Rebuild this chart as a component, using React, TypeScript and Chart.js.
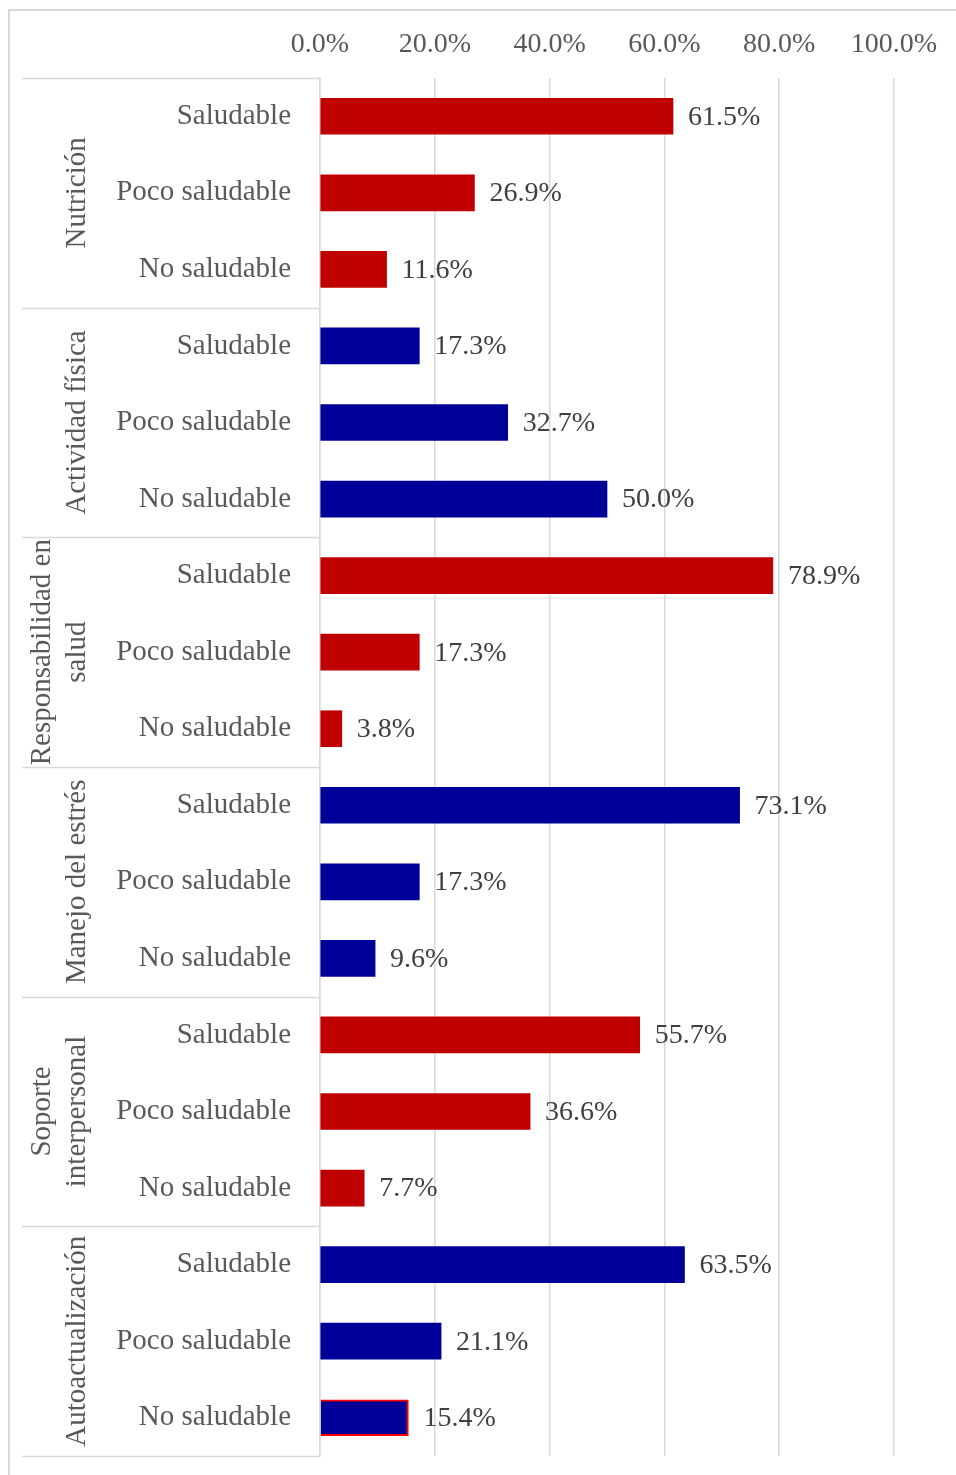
import React, { useEffect, useRef } from "react";
import { Chart, registerables } from "chart.js";

Chart.register(...registerables);

const groups: string[][] = [
  ["Nutrición"],
  ["Actividad física"],
  ["Responsabilidad en", "salud"],
  ["Manejo del estrés"],
  ["Soporte", "interpersonal"],
  ["Autoactualización"],
];
const levels = ["Saludable", "Poco saludable", "No saludable"];
const categories: string[] = groups.flatMap(() => levels);
const values = [
  61.5, 26.9, 11.6,
  17.3, 32.7, 50.0,
  78.9, 17.3, 3.8,
  73.1, 17.3, 9.6,
  55.7, 36.6, 7.7,
  63.5, 21.1, 15.4,
];
const groupColors = ["#C00000", "#000099", "#C00000", "#000099", "#C00000", "#000099"];
const xTicks = [0, 20, 40, 60, 80, 100];

const FONT = "'Liberation Serif', 'Times New Roman', serif";
const GRID = "#d9d9d9";

const overlay = {
  id: "overlay",
  afterDatasetsDraw(chart: any) {
    const ctx = chart.ctx;
    const meta = chart.getDatasetMeta(0);
    ctx.save();
    ctx.font = `28px ${FONT}`;
    ctx.fillStyle = "#404040";
    ctx.textAlign = "left";
    ctx.textBaseline = "middle";
    meta.data.forEach((bar: any, i: number) => {
      ctx.fillText(values[i].toFixed(1) + "%", bar.x + 15, bar.y + 1);
    });
    ctx.restore();
  },
  afterDraw(chart: any) {
    const ctx = chart.ctx;
    const ca = chart.chartArea;
    const ys = chart.scales.y;
    ctx.save();
    // outer frame
    ctx.strokeStyle = GRID;
    ctx.lineWidth = 2;
    ctx.beginPath();
    ctx.moveTo(9, chart.height + 5);
    ctx.lineTo(9, 10);
    ctx.lineTo(chart.width + 5, 10);
    ctx.stroke();
    // group separators
    ctx.lineWidth = 1.5;
    const bounds: number[] = [ca.top];
    for (let g = 1; g < groups.length; g++) {
      bounds.push((ys.getPixelForValue(g * 3 - 1) + ys.getPixelForValue(g * 3)) / 2);
    }
    bounds.push(ca.bottom);
    ctx.beginPath();
    bounds.forEach((b) => {
      ctx.moveTo(22, Math.round(b) + 0.5);
      ctx.lineTo(ca.left, Math.round(b) + 0.5);
    });
    ctx.stroke();
    // group labels
    ctx.font = `29px ${FONT}`;
    ctx.fillStyle = "#595959";
    ctx.textAlign = "center";
    ctx.textBaseline = "middle";
    groups.forEach((lines, g) => {
      const cy = (ys.getPixelForValue(g * 3) + ys.getPixelForValue(g * 3 + 2)) / 2;
      const n = lines.length;
      lines.forEach((t, k) => {
        const x = 77 - (n - 1 - k) * 35;
        ctx.save();
        ctx.translate(x, cy);
        ctx.rotate(-Math.PI / 2);
        ctx.fillText(t, 0, 0);
        ctx.restore();
      });
    });
    ctx.restore();
  },
};

export default function App() {
  const ref = useRef<HTMLCanvasElement | null>(null);
  useEffect(() => {
    if (!ref.current) return;
    const bg = categories.map((_, i) => groupColors[Math.floor(i / 3)]);
    const borders = categories.map((_, i) => (i === categories.length - 1 ? "#FF0000" : groupColors[Math.floor(i / 3)]));
    const bw = categories.map((_, i) => (i === categories.length - 1 ? 2 : 0));
    const chart = new Chart(ref.current, {
      type: "bar",
      data: {
        labels: categories,
        datasets: [
          {
            data: values,
            backgroundColor: bg,
            borderColor: borders,
            borderWidth: bw,
            barThickness: 36,
          },
        ],
      },
      options: {
        indexAxis: "y",
        animation: false,
        responsive: false,
        maintainAspectRatio: false,
        devicePixelRatio: 1,
        layout: { padding: { left: 0, top: 0, right: 62, bottom: 19 } },
        plugins: { legend: { display: false }, tooltip: { enabled: false } },
        scales: {
          x: {
            position: "top",
            min: 0,
            max: 100,
            afterFit: (s: any) => {
              s.height = 78;
              s.paddingLeft = 0;
              s.paddingRight = 0;
            },
            afterBuildTicks: (s: any) => { s.ticks = xTicks.map((v) => ({ value: v })); },
            ticks: {
              padding: 17,
              color: "#595959",
              font: { family: FONT, size: 28 },
              callback: (v: any) => Number(v).toFixed(1) + "%",
              maxRotation: 0,
            },
            grid: { color: GRID, lineWidth: 1.5, drawTicks: false },
            border: { display: false },
          },
          y: {
            afterFit: (s: any) => {
              s.width = 320;
              s.paddingTop = 0;
              s.paddingBottom = 0;
            },
            ticks: {
              padding: 29,
              color: "#595959",
              font: { family: FONT, size: 29 },
            },
            grid: { display: false, drawTicks: false },
            border: { display: true, color: GRID, width: 1.5 },
          },
        },
      },
      plugins: [overlay],
    });
    return () => chart.destroy();
  }, []);
  return (
    <canvas
      ref={ref}
      width={956}
      height={1475}
      style={{ position: "absolute", left: 0, top: 0, width: 956, height: 1475 }}
    />
  );
}
